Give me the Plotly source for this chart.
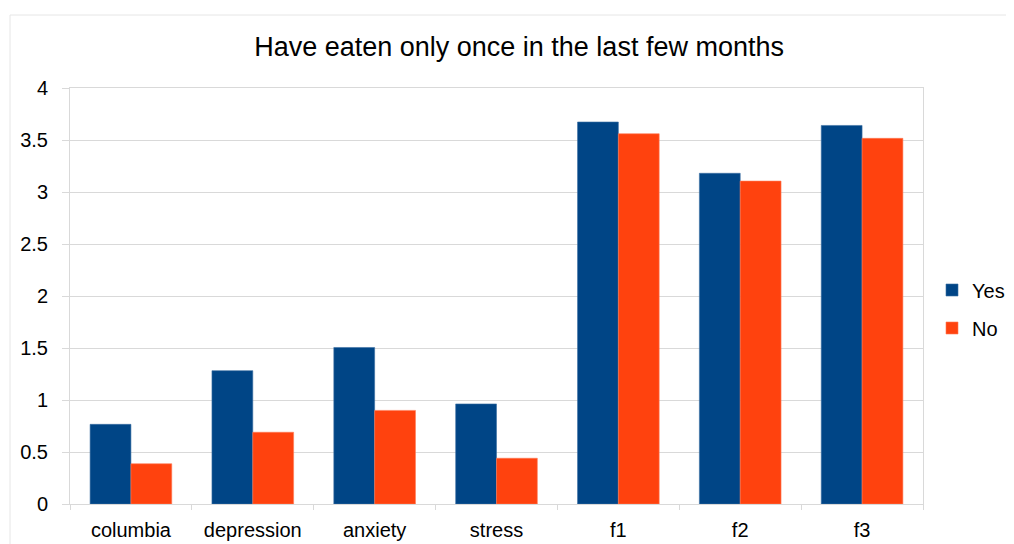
import plotly.graph_objects as go

categories = ["columbia", "depression", "anxiety", "stress", "f1", "f2", "f3"]
yes_values = [0.766, 1.282, 1.505, 0.962, 3.673, 3.18, 3.64]
no_values = [0.387, 0.69, 0.90, 0.44, 3.56, 3.105, 3.516]
y_ticks = [0, 0.5, 1, 1.5, 2, 2.5, 3, 3.5, 4]
y_ticktext = ["0", "0.5", "1", "1.5", "2", "2.5", "3", "3.5", "4"]

FONT = "Liberation Sans, Arial, sans-serif"
GRID = "#d9d9d9"

# page body has an 8px margin, so the figure is sized/offset accordingly
W, H = 1006, 536
L, R, T, B = 62, 91, 80, 40
PW, PH = W - L - R, H - T - B

fig = go.Figure()
fig.add_trace(go.Bar(x=categories, y=yes_values, name="Yes", legendgroup="yes",
                     marker=dict(color="#004586", line=dict(width=0.6, color="#3a6fa3"))))
fig.add_trace(go.Bar(x=categories, y=no_values, name="No", legendgroup="no",
                     marker=dict(color="#ff420e", line=dict(width=0.6, color="#ff7a55"))))

fig.update_layout(
    width=W, height=H,
    margin=dict(l=L, r=R, t=T, b=B, autoexpand=False),
    paper_bgcolor="white", plot_bgcolor="white",
    font=dict(family=FONT, size=20, color="#000000"),
    title=dict(text="Have eaten only once in the last few months",
               font=dict(family=FONT, size=27, color="#000000"),
               x=0.508, xanchor="center", y=1 - 39 / H, yanchor="middle"),
    barmode="group", bargap=0.33, bargroupgap=0,
    showlegend=True,
    legend=dict(x=(924 - L) / PW, xanchor="left", y=(H - B - (309 - 8)) / PH, yanchor="middle",
                traceorder="grouped", tracegroupgap=9,
                font=dict(family=FONT, size=20, color="#000000"),
                bgcolor="rgba(0,0,0,0)", itemwidth=30),
    xaxis=dict(type="category", showgrid=False, showline=True, linecolor=GRID, linewidth=1,
               mirror=True, ticks="outside", tickson="boundaries", ticklen=5, tickcolor=GRID,
               tickfont=dict(family=FONT, size=20, color="#000000"), ticklabelstandoff=8),
    yaxis=dict(range=[0, 4], tickvals=y_ticks, ticktext=y_ticktext, showgrid=True,
               gridcolor=GRID, gridwidth=1, showline=True, linecolor=GRID, linewidth=1,
               mirror=True, ticks="outside", ticklen=7, tickcolor=GRID, zeroline=False,
               tickfont=dict(family=FONT, size=20, color="#000000"), ticklabelstandoff=10),
    shapes=[dict(type="rect", xref="paper", yref="paper",
                 x0=(2 - L) / PW, x1=(1030 - L) / PW,
                 y0=-100 / PH, y1=(H - B - 7) / PH,
                 line=dict(color="#e6e6e6", width=1), fillcolor="rgba(0,0,0,0)", layer="below")],
)

fig.write_html("out.html")
